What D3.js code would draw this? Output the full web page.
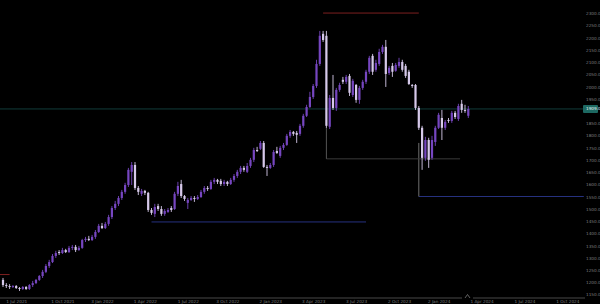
<!DOCTYPE html>
<html>
<head>
<meta charset="utf-8">
<script src="https://cdn.jsdelivr.net/npm/d3@7/dist/d3.min.js"></script>
<style>
  body { margin: 0; background: #000; }
  svg { display: block; }
  .axis text { font-family: "DejaVu Sans", sans-serif; font-size: 4.2px; fill: #7e7e7e; }
</style>
</head>
<body>
<div id="chart"></div>
<script>
// weekly candles, oldest first
var opens  = [1210,1189,1185,1181,1185,1177,1173,1181,1173,1189,1197,1210,1226,1243,1267,1283,1308,1324,1320,1332,
              1324,1341,1345,1332,1341,1373,1378,1373,1386,1406,1431,1422,1439,1467,1504,1521,1545,1570,1598,1652,
              1680,1586,1562,1574,1566,1496,1480,1512,1500,1480,1488,1504,1500,1562,1602,1553,1525,1537,1545,1541,
              1549,1570,1586,1582,1611,1619,1615,1602,1611,1602,1619,1635,1652,1668,1652,1676,1701,1741,1746,1770,
              1672,1668,1680,1737,1717,1750,1762,1799,1815,1811,1807,1840,1881,1917,1958,2003,2093,2216,2208,1836,
              1954,1913,1987,2028,2020,2044,1966,2007,1946,1995,2020,2061,2126,2069,2093,2142,2163,2056,2085,2065,
              2085,2101,2085,2061,2007,2007,1913,1832,1709,1782,1709,1774,1832,1872,1832,1864,1860,1893,1868,1930,
              1905,1881];
var highs  = [1218,1197,1193,1189,1189,1181,1185,1185,1193,1206,1214,1230,1251,1275,1292,1316,1329,1332,1341,1337,
              1349,1353,1353,1349,1378,1386,1390,1394,1414,1439,1443,1447,1476,1512,1533,1553,1578,1607,1668,1692,
              1692,1594,1582,1578,1570,1504,1521,1521,1512,1500,1504,1512,1570,1611,1619,1557,1545,1553,1553,1557,
              1578,1594,1594,1619,1627,1623,1623,1619,1615,1627,1643,1660,1676,1676,1688,1709,1750,1754,1778,1778,
              1680,1688,1741,1754,1758,1770,1807,1823,1819,1819,1848,1889,1926,1979,2011,2110,2228,2228,2228,1966,
              2048,1995,2016,2040,2048,2052,2032,2011,2003,2028,2069,2126,2134,2110,2155,2171,2191,2085,2097,2097,
              2118,2110,2093,2069,2011,2011,1921,1840,1795,1791,1799,1840,1893,1905,1864,1872,1901,1901,1930,1946,
              1926,1921];
var lows   = [1181,1177,1173,1177,1173,1165,1169,1169,1169,1181,1193,1206,1218,1238,1259,1279,1300,1312,1316,1320,
              1320,1332,1324,1329,1337,1365,1369,1369,1378,1402,1418,1418,1431,1459,1496,1512,1537,1562,1590,1598,
              1578,1557,1553,1557,1488,1476,1467,1492,1472,1472,1484,1488,1496,1553,1545,1533,1500,1533,1529,1537,
              1545,1562,1574,1578,1602,1602,1594,1594,1594,1598,1611,1627,1643,1652,1647,1668,1692,1733,1741,1668,
              1635,1664,1672,1725,1709,1741,1758,1791,1799,1770,1799,1832,1876,1913,1950,1995,2085,2183,1832,1827,
              1905,1901,1979,2011,2011,1962,1958,1934,1930,1987,2011,2052,2048,2061,2085,2134,1999,2048,2040,2061,
              2077,2061,2036,2007,1995,1905,1823,1660,1697,1668,1701,1758,1827,1782,1823,1852,1852,1868,1860,1893,
              1893,1872];
var closes = [1189,1185,1181,1185,1177,1173,1181,1173,1189,1197,1210,1226,1243,1267,1283,1308,1320,1320,1332,1324,
              1341,1345,1332,1341,1373,1378,1373,1386,1406,1431,1422,1439,1467,1504,1521,1545,1570,1598,1660,1680,
              1586,1570,1574,1566,1496,1484,1508,1500,1480,1492,1496,1496,1562,1594,1553,1541,1537,1545,1541,1549,
              1570,1586,1582,1611,1619,1611,1602,1611,1602,1619,1635,1652,1668,1660,1676,1701,1741,1737,1770,1672,
              1668,1680,1733,1729,1750,1762,1799,1815,1807,1803,1840,1881,1917,1958,2003,2093,2208,2191,1840,1954,
              1913,1987,2007,2020,2040,1975,2024,1946,1995,2020,2061,2118,2061,2097,2142,2163,2052,2077,2061,2089,
              2101,2069,2044,2011,2003,1913,1832,1709,1782,1701,1782,1832,1885,1832,1856,1860,1893,1876,1921,1905,
              1901,1909];

// date axis: label text and the week index it sits on
var dateLabels = ["1 Jul 2021","1 Oct 2021","3 Jan 2022","1 Apr 2022","1 Jul 2022","3 Oct 2022","2 Jan 2023",
                  "3 Apr 2023","3 Jul 2023","2 Oct 2023","2 Jan 2024","1 Apr 2024","1 Jul 2024","1 Oct 2024"];
var dateIdx    = [4, 18, 30, 43, 56, 68, 81, 94, 107, 120, 132, 145, 158, 171];

var priceTicks = [1150,1200,1250,1300,1350,1400,1450,1500,1550,1600,1650,1700,
                  1750,1800,1850,1900,1950,2000,2050,2100,2150,2200,2250,2300];

// drawn levels: price, first week, last week, kind, anchor price of the drop line
var levelPrice  = [2301, 1232, 1447, 1551, 1705];
var levelFrom   = [97, -1, 45, 126, 98];
var levelTo     = [126, 2, 110, 176, 138.5];
var levelKind   = ["res", "res", "sup", "sup", "mid"];
var levelAnchor = [null, null, null, 1770, 1836];

var lastPrice = closes[closes.length - 1];

var W = 600, H = 304;
var colors = { up: "#7646c0", down: "#d6c9ea", res: "#7d1f1f", sup: "#26317f", mid: "#3a3a3a",
               last: "#103c3a", lastBox: "#1d6962" };

var svg = d3.select("#chart").append("svg").attr("width", W).attr("height", H)
    .style("background", "#000");

var x = d3.scaleLinear().domain([0, 171]).range([3, 3 + 3.3 * 171]);
var y = d3.scaleLinear().domain([1150, 2300]).range([294.6, 13.3]);

var candles = opens.map(function (o, i) {
    return { i: i, o: o, h: highs[i], l: lows[i], c: closes[i] };
});

// current price line (behind candles)
svg.append("line")
    .attr("x1", 0).attr("x2", 583)
    .attr("y1", y(lastPrice)).attr("y2", y(lastPrice))
    .attr("stroke", colors.last).attr("stroke-width", 1);

// levels
var lv = svg.append("g").attr("id", "levels");
levelPrice.forEach(function (p, k) {
    var col = colors[levelKind[k]];
    lv.append("line")
        .attr("x1", x(levelFrom[k])).attr("x2", x(levelTo[k]))
        .attr("y1", y(p)).attr("y2", y(p))
        .attr("stroke", col).attr("stroke-width", 1);
    if (levelAnchor[k] != null) {
        lv.append("line")
            .attr("x1", x(levelFrom[k])).attr("x2", x(levelFrom[k]))
            .attr("y1", y(levelAnchor[k])).attr("y2", y(p))
            .attr("stroke", k == 4 ? "#6a6a6a" : "#8a8a8a").attr("stroke-width", 0.8);
    }
});

// candles
var bw = 2.2;
var g = svg.append("g").attr("id", "candles");
var cg = g.selectAll("g").data(candles).enter().append("g");

cg.append("line")
    .attr("x1", function (d) { return x(d.i); })
    .attr("x2", function (d) { return x(d.i); })
    .attr("y1", function (d) { return y(d.h); })
    .attr("y2", function (d) { return y(d.l); })
    .attr("stroke", function (d) { return d.c >= d.o ? colors.up : colors.down; })
    .attr("stroke-width", 0.9);

cg.append("rect")
    .attr("x", function (d) { return x(d.i) - bw / 2; })
    .attr("y", function (d) { return y(Math.max(d.o, d.c)); })
    .attr("width", bw)
    .attr("height", function (d) { return Math.max(1, Math.abs(y(d.o) - y(d.c))); })
    .attr("fill", function (d) { return d.c >= d.o ? colors.up : colors.down; });

// price axis, the tick hidden under the last price tag is left out
var shownTicks = priceTicks.filter(function (v) { return Math.abs(y(v) - y(lastPrice)) > 5; });
var yAxis = d3.axisRight(y).tickValues(shownTicks).tickSize(0).tickPadding(3)
    .tickFormat(d3.format(".1f"));
svg.append("g").attr("class", "axis").attr("transform", "translate(583,0)").call(yAxis)
    .call(function (a) { a.select(".domain").remove(); });

// last price tag
var tag = svg.append("g").attr("transform", "translate(583," + y(lastPrice) + ")");
tag.append("rect").attr("x", 0).attr("y", -4).attr("width", 15).attr("height", 8)
    .attr("rx", 1).attr("fill", colors.lastBox);
tag.append("text").attr("x", 3).attr("y", 1.5)
    .attr("font-family", "DejaVu Sans, sans-serif").attr("font-size", 4.2).attr("fill", "#e8f4f2")
    .text(d3.format(".1f")(lastPrice));

// date axis
var xAxis = d3.axisBottom(x).tickValues(dateIdx).tickSize(0).tickPadding(2)
    .tickFormat(function (d, i) { return dateLabels[i]; });
svg.append("g").attr("class", "axis").attr("transform", "translate(0,298)").call(xAxis)
    .call(function (a) { a.select(".domain").remove(); });

svg.append("line").attr("x1", 0).attr("x2", 462).attr("y1", 298).attr("y2", 298)
    .attr("stroke", "#5a5a5a").attr("stroke-width", 0.8);
svg.append("line").attr("x1", 473).attr("x2", 585).attr("y1", 298).attr("y2", 298)
    .attr("stroke", "#5a5a5a").attr("stroke-width", 0.8);
svg.append("path").attr("d", "M465,298L467.5,294.5L470,298")
    .attr("fill", "none").attr("stroke", "#8a8a8a").attr("stroke-width", 0.7);
</script>
</body>
</html>
